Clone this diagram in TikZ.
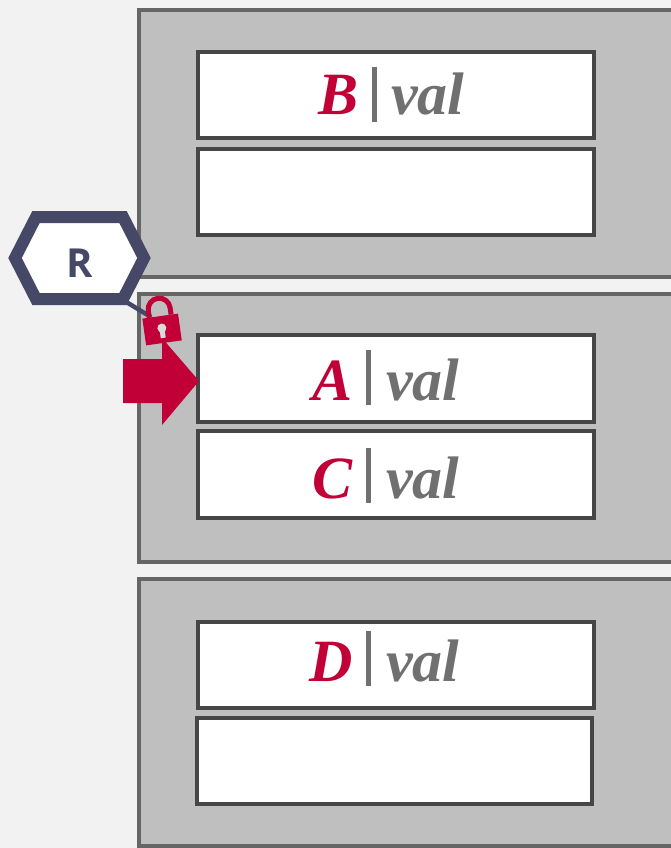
\documentclass[tikz,border=0pt]{standalone}
\usepackage{fontspec}
\setmainfont{Liberation Serif}
\newfontfamily\labelfont{Open Sans}
\usepackage{tikz}
\usetikzlibrary{positioning, calc}

\definecolor{pagegray}{HTML}{BFBFBF}
\definecolor{pageedge}{HTML}{666666}
\definecolor{slotedge}{HTML}{464646}
\definecolor{backgray}{HTML}{F2F2F2}
\definecolor{keyred}{HTML}{C00036}
\definecolor{valgray}{HTML}{707070}
\definecolor{readerblue}{HTML}{464868}

\tikzset{
    pagebox/.style={draw=pageedge, fill=pagegray, line width=4pt},
    slotbox/.style={draw=slotedge, fill=white, line width=4pt},
    keytext/.style={text=keyred, inner sep=0pt, anchor=base east, font=\fontsize{60}{60}\selectfont\bfseries\itshape},
    valtext/.style={text=valgray, inner sep=0pt, anchor=base west, font=\fontsize{60}{60}\selectfont\bfseries\itshape},
    sepline/.style={valgray, line width=5pt},
}

\begin{document}
\begin{tikzpicture}[x=1pt, y=-1pt]
            \useasboundingbox (0,0) rectangle (671,848);
            \clip (0,0) rectangle (671,848);
            \fill[backgray] (0,0) rectangle (671,848);

            %pages
            \draw[pagebox] (139,10) rectangle (690,277);
            \draw[pagebox] (139,294) rectangle (690,562);
            \draw[pagebox] (139,579) rectangle (690,846);

            %slots
            \draw[slotbox] (198,52) rectangle (594,138);
            \draw[slotbox] (198,149) rectangle (594,235);
            \draw[slotbox] (198,335) rectangle (594,422);
            \draw[slotbox] (198,431) rectangle (594,518);
            \draw[slotbox] (198,622) rectangle (594,708);
            \draw[slotbox] (197,718) rectangle (592,804);

            %keys and values
            \node[keytext] (keyB) at (359,115) {B};
            \draw[sepline] (374,67) -- (374,122);
            \node[valtext] (valB) at (391,115) {val};

            \node[keytext] (keyA) at (353,400) {A};
            \draw[sepline] (368,350) -- (368,405);
            \node[valtext] (valA) at (386,400) {val};

            \node[keytext] (keyC) at (353,498) {C};
            \draw[sepline] (368,448) -- (368,503);
            \node[valtext] (valC) at (386,498) {val};

            \node[keytext] (keyD) at (353,681) {D};
            \draw[sepline] (368,631) -- (368,686);
            \node[valtext] (valD) at (386,681) {val};

            %reader
            \coordinate (readerfoot) at (123,300);
            \coordinate (lockhook) at (151,317);
            \draw[readerblue, line width=4.5pt] (readerfoot) -- (lockhook);
            \draw[readerblue, fill=white, line width=12pt, line join=miter] (15,258) -- (36,217) -- (123,217) -- (144,258) -- (123,299) -- (36,299) -- cycle;
            \node[text=readerblue, inner sep=0pt, font=\labelfont\fontsize{40}{40}\selectfont\bfseries] (reader) at (79.5,263) {R};

            %arrow
            \fill[keyred] (123,359) -- (162,359) -- (162,338) -- (199,381) -- (162,425) -- (162,403) -- (123,403) -- cycle;

            %lock
            \begin{scope}[shift={(162,329)}, rotate=8]
                \draw[keyred, line width=5pt] (-11,-13) -- (-11,-20) arc (180:360:11) -- (11,-13);
                \fill[keyred] (-18,-13) rectangle (18,14);
                \fill[backgray!90!black] (0,-1) circle (4.5);
                \fill[backgray!90!black] (-2.5,0) rectangle (2.5,9);
            \end{scope}
        \end{tikzpicture}
\end{document}
